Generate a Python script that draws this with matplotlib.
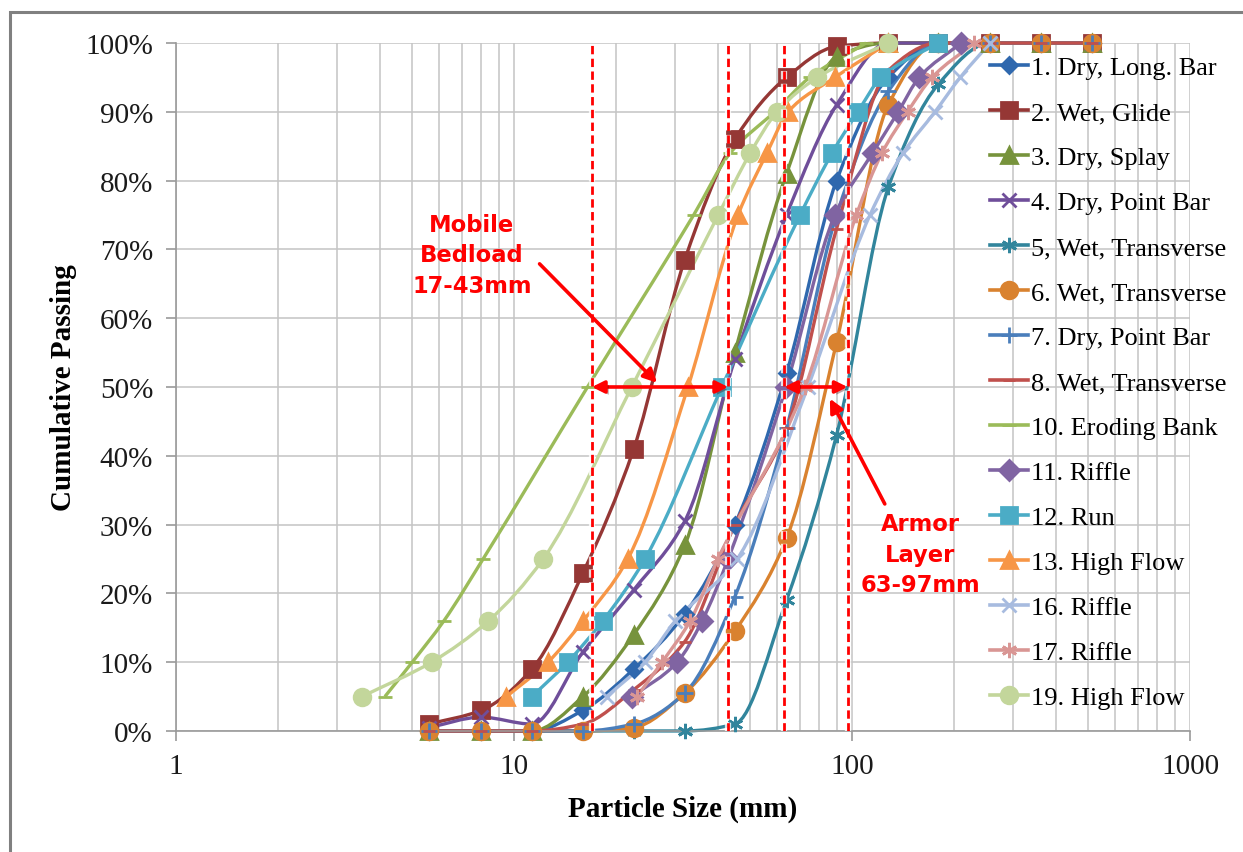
import numpy as np
import matplotlib
matplotlib.use("Agg")
import matplotlib.pyplot as plt
from matplotlib.path import Path
from matplotlib.patches import PathPatch, Rectangle
from matplotlib.lines import Line2D
from matplotlib.ticker import FuncFormatter, LogLocator, NullFormatter
import matplotlib.patheffects as pe

plt.rcParams['font.family'] = ['Liberation Serif', 'DejaVu Serif']

# sieve based samples (size in mm -> cumulative % passing)
sieve = [5.6, 8, 11.3, 16, 22.6, 32, 45, 64, 90, 128, 180, 256, 362, 512]
s1_y = [0, 0, 0, 3, 9, 17, 30, 52, 80, 95, 100, 100, 100, 100]
s2_y = [1, 3, 9, 23, 41, 68.5, 86, 95, 99.5, 100, 100, 100, 100, 100]
s3_y = [0, 0, 0, 5, 14, 27, 55, 81, 98, 100, 100, 100, 100, 100]
s4_y = [0.5, 2, 1, 11.5, 20.5, 30.5, 54, 75, 91, 100, 100, 100, 100, 100]
s5_y = [0, 0, 0, 0, 0, 0, 1, 19, 43, 79, 94, 100, 100, 100]
s6_y = [0, 0, 0, 0, 0.5, 5.5, 14.5, 28, 56.5, 91, 100, 100, 100, 100]
s7_y = [0, 0, 0, 0, 1, 5.5, 19.5, 44, 75, 93, 100, 100, 100, 100]
s8_y = [0, 0, 0, 1, 6, 13, 30, 44, 73, 96, 100, 100, 100, 100]

# percentile based samples (% passing -> size in mm)
pct = [5, 10, 16, 25, 50, 75, 84, 90, 95, 100]
s10_x = [4.15, 5.0, 6.2, 8.1, 16.5, 34, 43.6, 59, 75, 110]
s11_x = [22.4, 30.4, 36, 43, 63.8, 89, 115, 137, 158, 210]
s12_x = [11.3, 14.4, 18.3, 24.4, 41.2, 70.2, 87.3, 104, 122, 180]
s13_x = [9.5, 12.6, 16.0, 21.7, 32.7, 46, 56, 64.7, 89, 128]
s16_x = [18.8, 24.4, 30, 45.7, 74, 113, 141.6, 176, 209, 256]
s17_x = [23.1, 27.4, 33.2, 40.1, 72.6, 103, 122.6, 146, 172.5, 230]
s19_x = [3.55, 5.7, 8.4, 12.2, 22.3, 40.2, 50, 60, 79, 128]

labels = ['1. Dry, Long. Bar', '2. Wet, Glide', '3. Dry, Splay', '4. Dry, Point Bar',
          '5, Wet, Transverse', '6. Wet, Transverse', '7. Dry, Point Bar',
          '8. Wet, Transverse', '10. Eroding Bank', '11. Riffle', '12. Run',
          '13. High Flow', '16. Riffle', '17. Riffle', '19. High Flow']

series = [
    (sieve, s1_y), (sieve, s2_y), (sieve, s3_y), (sieve, s4_y), (sieve, s5_y),
    (sieve, s6_y), (sieve, s7_y), (sieve, s8_y),
    (s10_x, pct), (s11_x, pct), (s12_x, pct), (s13_x, pct),
    (s16_x, pct), (s17_x, pct), (s19_x, pct),
]

colors = ['#2F68AE', '#953735', '#77933C', '#6F4E9A', '#31859C', '#D9822F', '#4A7EBB',
          '#C0504D', '#9BBB59', '#8064A2', '#4BACC6', '#F79646', '#A7BBDF', '#D99694',
          '#C3D69B']
asterisk = (6, 2, 0)
markers = ['D', 's', '^', 'x', asterisk, 'o', '+', '_', '_', 'D', 's', '^', 'x', asterisk, 'o']
msizes = [8, 11, 11, 10, 11, 12, 11, 9, 10, 10, 12, 11, 10, 11, 12]

bedload = (17, 43)
armor = (63, 97)


def smooth_path(xs, ys):
    # smoothed line through the points: monotone cubic Beziers in log-x space
    x = np.log10(np.asarray(xs, float))
    y = np.asarray(ys, float)
    n = len(x)
    h = np.diff(x)
    d = np.diff(y) / h
    m = np.zeros(n)
    m[0], m[-1] = d[0], d[-1]
    for i in range(1, n - 1):
        if d[i - 1] * d[i] > 0:
            w1 = 2 * h[i] + h[i - 1]
            w2 = h[i] + 2 * h[i - 1]
            m[i] = (w1 + w2) / (w1 / d[i - 1] + w2 / d[i])
    verts = [(x[0], y[0])]
    codes = [Path.MOVETO]
    for i in range(n - 1):
        verts += [(x[i] + h[i] / 3, y[i] + m[i] * h[i] / 3),
                  (x[i + 1] - h[i] / 3, y[i + 1] - m[i + 1] * h[i] / 3),
                  (x[i + 1], y[i + 1])]
        codes += [Path.CURVE4] * 3
    verts = np.array(verts)
    verts[:, 0] = 10 ** verts[:, 0]
    return Path(verts, codes)


fig = plt.figure(figsize=(12.43, 8.53), dpi=100)
ax = fig.add_axes([0.1416, 0.1419, 0.8158, 0.8065])
ax.set_xscale('log')
ax.set_xlim(1, 1000)
ax.set_ylim(0, 100)

handles = []
for (xs, ys), c, m, ms, lab in zip(series, colors, markers, msizes, labels):
    ax.add_patch(PathPatch(smooth_path(xs, ys), facecolor='none', edgecolor=c, lw=2.4,
                           zorder=2, clip_on=False))
    ax.plot(xs, ys, linestyle='none', marker=m, ms=ms, color=c, mec=c, mew=2,
            zorder=3, clip_on=False)
    handles.append(Line2D([], [], color=c, lw=2.6, marker=m, ms=ms, mec=c, mew=2))

# grid
ax.xaxis.set_major_locator(LogLocator(base=10))
ax.xaxis.set_minor_locator(LogLocator(base=10, subs=np.arange(2, 10)))
ax.xaxis.set_minor_formatter(NullFormatter())
ax.xaxis.set_major_formatter(FuncFormatter(lambda v, p: '%d' % v))
ax.set_yticks(np.arange(0, 101, 10))
ax.yaxis.set_major_formatter(FuncFormatter(lambda v, p: '%d%%' % v))
ax.grid(True, which='both', axis='x', color='#C4C4C4', lw=1.1)
ax.grid(True, which='major', axis='y', color='#C4C4C4', lw=1.1)
ax.set_axisbelow(True)
for s in ['top', 'right']:
    ax.spines[s].set_visible(False)
for s in ['left', 'bottom']:
    ax.spines[s].set_color('#9A9A9A')
    ax.spines[s].set_linewidth(1.2)
ax.tick_params(axis='both', which='major', labelsize=21, colors='#9A9A9A',
               labelcolor='#1A1A1A', length=7, width=1.2, direction='out')
ax.tick_params(axis='x', which='minor', length=0)
ax.tick_params(axis='y', pad=9.5)
ax.tick_params(axis='x', pad=9)

ax.set_xlabel('Particle Size (mm)', fontsize=21, fontweight='bold', labelpad=11)
ax.set_ylabel('Cumulative Passing', fontsize=21, fontweight='bold', labelpad=6)

# range markers
glow = [pe.Stroke(linewidth=4.5, foreground='#FFFFFF', alpha=0.8), pe.Normal()]
for v in bedload + armor:
    ax.axvline(v, color='#FF0000', lw=2.0, ls=(0, (3, 1.6)), zorder=5, path_effects=glow)

shadow = [pe.SimplePatchShadow(offset=(2, -2), alpha=0.35), pe.Normal()]
for lo, hi in (bedload, armor):
    ax.annotate('', xy=(hi, 50), xytext=(lo, 50), zorder=6,
                arrowprops=dict(arrowstyle='<|-|>', color='#FF0000', lw=2.6,
                                mutation_scale=18, shrinkA=0, shrinkB=0,
                                path_effects=shadow))

txt = dict(color='#FF0000', fontsize=16.3, fontweight='bold', ha='center', va='center',
           family=['DejaVu Sans'], linespacing=1.42, zorder=7)
arrow = dict(arrowstyle='-|>', color='#FF0000', lw=2.6, mutation_scale=20,
             shrinkA=0, shrinkB=0)
ax.text(7.5, 69.2, 'Mobile\nBedload\n17-43mm', **txt)
ax.annotate('', xy=(26.5, 50.6), xytext=(11.9, 67.9), arrowprops=arrow, zorder=7)
ax.text(159, 25.7, 'Armor\nLayer\n63-97mm', **txt)
ax.annotate('', xy=(86, 48.3), xytext=(125, 33.0), arrowprops=arrow, zorder=7)

fig.legend(handles=handles, labels=labels, loc='upper left',
           bbox_to_anchor=(990 / 1243, 1 - 57 / 853), frameon=False, fontsize=19,
           handlelength=1.45, handletextpad=0.12, labelspacing=0.815, borderpad=0,
           borderaxespad=0)

# outer chart border
fig.patches.append(Rectangle((10 / 1243, -0.2), 1.2, 1.2 - 13 / 853,
                             transform=fig.transFigure, fill=False,
                             edgecolor='#808080', lw=2.2))

fig.savefig('out.png', dpi=100)
